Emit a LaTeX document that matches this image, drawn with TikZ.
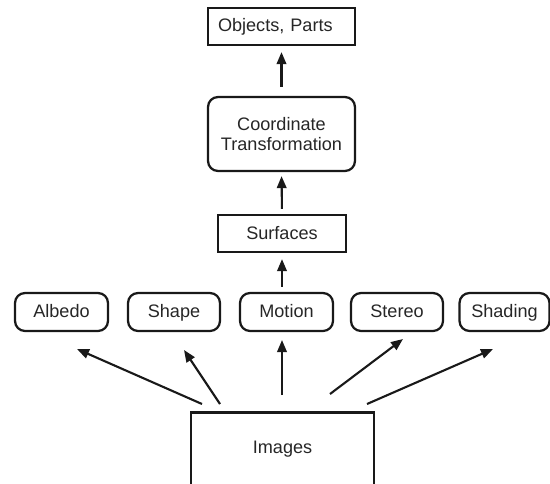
\documentclass[tikz,border=0pt]{standalone}
\usepackage{fontspec}
\setmainfont{Liberation Sans}
\usetikzlibrary{arrows.meta}
\begin{document}
\begin{tikzpicture}[x=0.02cm,y=-0.02cm,
  every node/.style={font=\fontsize{10.3}{11.4}\selectfont, text=black!85},
  sqbox/.style={draw=black!90, line width=0.045cm, inner sep=0pt, minimum height=0.74cm},
  rdbox/.style={draw=black!90, line width=0.045cm, rounded corners=0.2cm, inner sep=0pt, minimum height=0.76cm},
  modbox/.style={rdbox, text height=1.6ex, text depth=0.45ex},
  feed/.style={draw=black!90, line width=0.042cm, -{Triangle[length=0.24cm,width=0.19cm]}}]
  \useasboundingbox (0,0) rectangle (550,483);

  % Drawing the upper column
  \node (parts) [sqbox, minimum width=2.94cm, text width=2.54cm, inner xsep=0.2cm, align=left] at (281.5,26.5) {\raisebox{0.07cm}{Objects, Parts}};
  \node (coord) [rdbox, minimum width=2.94cm, minimum height=1.48cm, align=center] at (281.5,134) {Coordinate\\Transformation};
  \node (surf) [sqbox, minimum width=2.56cm] at (282,233.5) {Surfaces};

  % Drawing the row of modules
  \node (albedo) [modbox, minimum width=1.86cm] at (61.5,312) {Albedo};
  \node (shape) [modbox, minimum width=1.84cm] at (174,312) {Shape};
  \node (motion) [modbox, minimum width=1.86cm] at (286.5,312) {Motion};
  \node (stereo) [modbox, minimum width=1.84cm] at (397,312) {Stereo};
  \node (shading) [modbox, minimum width=1.80cm] at (504.5,312) {Shading};

  % Drawing images, open at the bottom
  \node (img) [inner sep=0pt, minimum width=3.66cm, minimum height=1.446cm] at (282.5,449) {Images};
  \draw [draw=black!90, line width=0.045cm] (img.south west) |- (img.north east) -- (img.south east);

  % Arrow ends
  \coordinate (imgA) at (202,404);
  \coordinate (imgB) at (220,404);
  \coordinate (imgC) at (282,395);
  \coordinate (imgD) at (330,394);
  \coordinate (imgE) at (367,404);
  \coordinate (albedoIn) at (77,349);
  \coordinate (shapeIn) at (184,350);
  \coordinate (motionIn) at (282,340);
  \coordinate (stereoIn) at (403,339);
  \coordinate (shadingIn) at (493,349);

  % Drawing arrows from images
  \draw [feed] (imgA) -- (albedoIn);
  \draw [feed] (imgB) -- (shapeIn);
  \draw [feed] (imgC) -- (motionIn);
  \draw [feed] (imgD) -- (stereoIn);
  \draw [feed] (imgE) -- (shadingIn);

  % Drawing arrows up the column
  \draw [feed, shorten <=0.1cm, shorten >=0.12cm] (motion.north -| surf.south) -- (surf.south);
  \draw [feed, shorten <=0.1cm, shorten >=0.08cm] (surf.north) -- (coord.south);
  \draw [feed, shorten <=0.18cm, shorten >=0.12cm] (coord.north) -- (parts.south);
\end{tikzpicture}
\end{document}
